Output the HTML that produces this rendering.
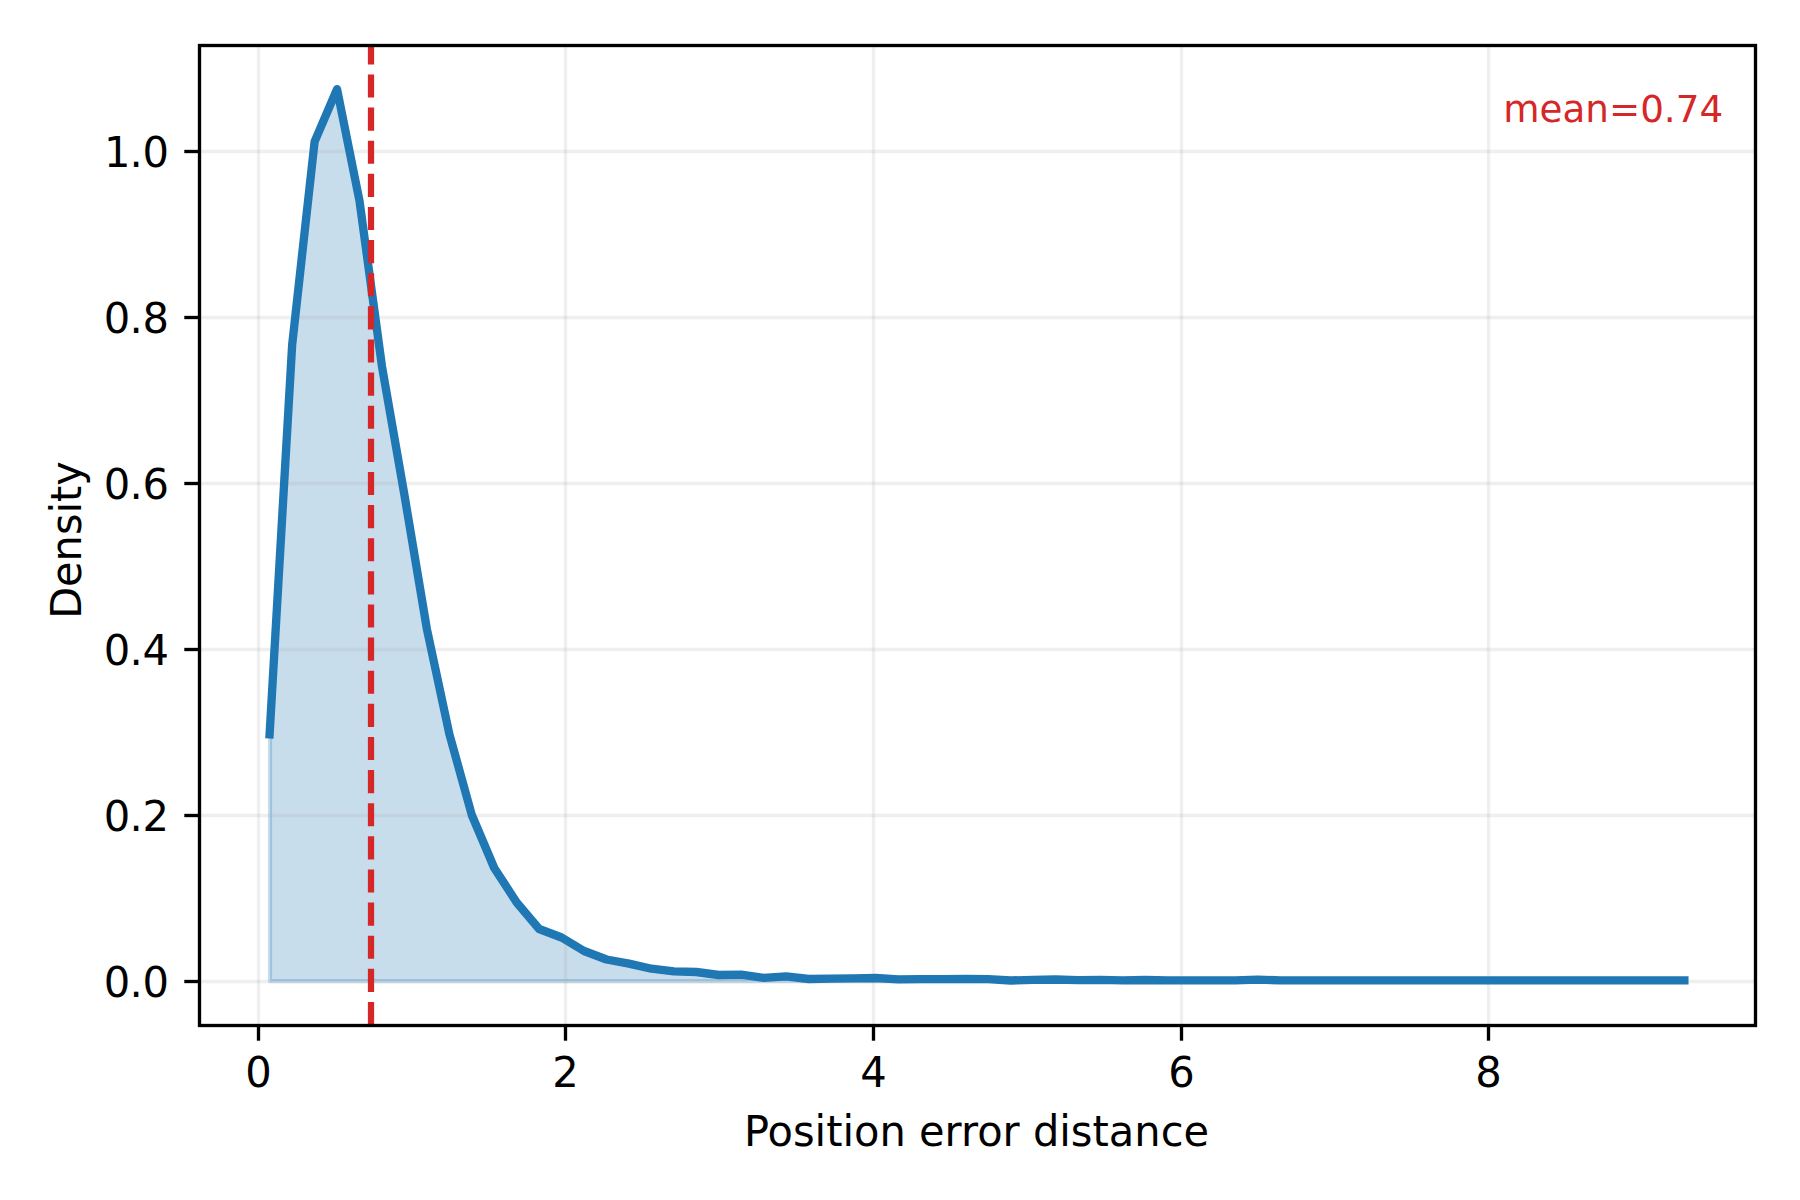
<!DOCTYPE html><html><head><meta charset="utf-8"><title>Position error distance density</title>
<style>html,body{margin:0;padding:0;background:#fff}svg{display:block}text{font-family:"DejaVu Sans","Liberation Sans",sans-serif;fill:#000}</style></head><body>
<svg width="1800" height="1200" viewBox="0 0 1800 1200">
<rect width="1800" height="1200" fill="#fff"/>
<defs><clipPath id="ax"><rect x="199.5" y="45.5" width="1556.0" height="980.0"/></clipPath></defs>
<g clip-path="url(#ax)">
<polygon points="270.0,981.2 270.0,734.30 292.15,345.00 314.61,141.60 337.06,89.20 359.52,201.00 381.97,366.40 404.43,495.00 426.88,629.00 449.34,734.00 471.79,815.00 494.25,868.00 516.70,902.50 539.16,929.00 561.62,937.50 584.07,951.00 606.52,959.50 628.98,963.60 651.43,968.70 673.89,971.30 696.35,972.00 718.80,975.00 741.25,974.70 763.71,977.80 786.16,976.30 808.62,979.00 831.08,978.70 853.53,978.30 875.98,978.00 898.44,979.30 920.89,979.20 943.35,979.20 965.80,978.80 988.26,979.20 1010.71,980.50 1033.17,979.80 1055.62,979.50 1078.08,980.20 1100.53,979.80 1122.99,980.30 1145.44,980.00 1167.90,980.30 1190.36,980.40 1212.81,980.30 1235.26,980.40 1257.72,979.70 1280.17,980.30 1302.63,980.40 1325.09,980.30 1347.54,980.40 1369.99,980.30 1392.45,980.40 1414.90,980.30 1437.36,980.40 1459.82,980.30 1482.27,980.40 1504.72,980.30 1527.18,980.30 1549.63,980.30 1572.09,980.30 1594.54,980.30 1617.00,980.30 1639.45,980.30 1661.91,980.30 1684.37,980.30 1684.37,981.2" fill="#1f77b4" fill-opacity="0.25" stroke="#1f77b4" stroke-opacity="0.25" stroke-width="4.167" stroke-linejoin="round"/>
<line x1="258.5" x2="258.5" y1="45.5" y2="1025.5" stroke="#b0b0b0" stroke-opacity="0.2" stroke-width="3.333"/>
<line x1="565.5" x2="565.5" y1="45.5" y2="1025.5" stroke="#b0b0b0" stroke-opacity="0.2" stroke-width="3.333"/>
<line x1="873.5" x2="873.5" y1="45.5" y2="1025.5" stroke="#b0b0b0" stroke-opacity="0.2" stroke-width="3.333"/>
<line x1="1181.5" x2="1181.5" y1="45.5" y2="1025.5" stroke="#b0b0b0" stroke-opacity="0.2" stroke-width="3.333"/>
<line x1="1488.5" x2="1488.5" y1="45.5" y2="1025.5" stroke="#b0b0b0" stroke-opacity="0.2" stroke-width="3.333"/>
<line x1="199.5" x2="1755.5" y1="981.5" y2="981.5" stroke="#b0b0b0" stroke-opacity="0.2" stroke-width="3.333"/>
<line x1="199.5" x2="1755.5" y1="815.5" y2="815.5" stroke="#b0b0b0" stroke-opacity="0.2" stroke-width="3.333"/>
<line x1="199.5" x2="1755.5" y1="649.5" y2="649.5" stroke="#b0b0b0" stroke-opacity="0.2" stroke-width="3.333"/>
<line x1="199.5" x2="1755.5" y1="483.5" y2="483.5" stroke="#b0b0b0" stroke-opacity="0.2" stroke-width="3.333"/>
<line x1="199.5" x2="1755.5" y1="317.5" y2="317.5" stroke="#b0b0b0" stroke-opacity="0.2" stroke-width="3.333"/>
<line x1="199.5" x2="1755.5" y1="151.5" y2="151.5" stroke="#b0b0b0" stroke-opacity="0.2" stroke-width="3.333"/>
<polyline points="269.60,734.30 292.15,345.00 314.61,141.60 337.06,89.20 359.52,201.00 381.97,366.40 404.43,495.00 426.88,629.00 449.34,734.00 471.79,815.00 494.25,868.00 516.70,902.50 539.16,929.00 561.62,937.50 584.07,951.00 606.52,959.50 628.98,963.60 651.43,968.70 673.89,971.30 696.35,972.00 718.80,975.00 741.25,974.70 763.71,977.80 786.16,976.30 808.62,979.00 831.08,978.70 853.53,978.30 875.98,978.00 898.44,979.30 920.89,979.20 943.35,979.20 965.80,978.80 988.26,979.20 1010.71,980.50 1033.17,979.80 1055.62,979.50 1078.08,980.20 1100.53,979.80 1122.99,980.30 1145.44,980.00 1167.90,980.30 1190.36,980.40 1212.81,980.30 1235.26,980.40 1257.72,979.70 1280.17,980.30 1302.63,980.40 1325.09,980.30 1347.54,980.40 1369.99,980.30 1392.45,980.40 1414.90,980.30 1437.36,980.40 1459.82,980.30 1482.27,980.40 1504.72,980.30 1527.18,980.30 1549.63,980.30 1572.09,980.30 1594.54,980.30 1617.00,980.30 1639.45,980.30 1661.91,980.30 1684.37,980.30" fill="none" stroke="#1f77b4" stroke-width="8.333" stroke-linejoin="round" stroke-linecap="square"/>
<line x1="371" x2="371" y1="1025.0" y2="45.5" stroke="#d62728" stroke-width="6.25" stroke-dasharray="23.125 10"/>
</g>
<line x1="258.5" x2="258.5" y1="1025.5" y2="1040.7" stroke="#000" stroke-width="3.333"/>
<text transform="translate(258.5,1087.2) scale(1,1.035)" font-size="41.667" text-anchor="middle">0</text>
<line x1="565.5" x2="565.5" y1="1025.5" y2="1040.7" stroke="#000" stroke-width="3.333"/>
<text transform="translate(565.5,1087.2) scale(1,1.035)" font-size="41.667" text-anchor="middle">2</text>
<line x1="873.5" x2="873.5" y1="1025.5" y2="1040.7" stroke="#000" stroke-width="3.333"/>
<text transform="translate(873.5,1087.2) scale(1,1.035)" font-size="41.667" text-anchor="middle">4</text>
<line x1="1181.5" x2="1181.5" y1="1025.5" y2="1040.7" stroke="#000" stroke-width="3.333"/>
<text transform="translate(1181.5,1087.2) scale(1,1.035)" font-size="41.667" text-anchor="middle">6</text>
<line x1="1488.5" x2="1488.5" y1="1025.5" y2="1040.7" stroke="#000" stroke-width="3.333"/>
<text transform="translate(1488.5,1087.2) scale(1,1.035)" font-size="41.667" text-anchor="middle">8</text>
<line x1="184.3" x2="199.5" y1="981.5" y2="981.5" stroke="#000" stroke-width="3.333"/>
<text transform="translate(0,997.0) scale(1,1.035)" x="103.8 129.6 142.6" y="0" font-size="41.667">0.0</text>
<line x1="184.3" x2="199.5" y1="815.5" y2="815.5" stroke="#000" stroke-width="3.333"/>
<text transform="translate(0,831.0) scale(1,1.035)" x="103.8 129.6 142.6" y="0" font-size="41.667">0.2</text>
<line x1="184.3" x2="199.5" y1="649.5" y2="649.5" stroke="#000" stroke-width="3.333"/>
<text transform="translate(0,665.0) scale(1,1.035)" x="103.8 129.6 142.6" y="0" font-size="41.667">0.4</text>
<line x1="184.3" x2="199.5" y1="483.5" y2="483.5" stroke="#000" stroke-width="3.333"/>
<text transform="translate(0,499.0) scale(1,1.035)" x="103.8 129.6 142.6" y="0" font-size="41.667">0.6</text>
<line x1="184.3" x2="199.5" y1="317.5" y2="317.5" stroke="#000" stroke-width="3.333"/>
<text transform="translate(0,333.0) scale(1,1.035)" x="103.8 129.6 142.6" y="0" font-size="41.667">0.8</text>
<line x1="184.3" x2="199.5" y1="151.5" y2="151.5" stroke="#000" stroke-width="3.333"/>
<text transform="translate(0,167.0) scale(1,1.035)" x="104.0 129.6 142.6" y="0" font-size="41.667">1.0</text>
<rect x="199.5" y="45.5" width="1556.0" height="980.0" fill="none" stroke="#000" stroke-width="3.333"/>
<text transform="translate(976.5,1146) scale(0.998,1.035)" font-size="41.667" text-anchor="middle">Position error distance</text>
<text transform="translate(81.2,540.0) rotate(-90) scale(0.995,1.035)" font-size="41.667" text-anchor="middle">Density</text>
<text transform="translate(1613.2,121.8) scale(0.994,1)" font-size="37.5" text-anchor="middle" style="fill:#d62728">mean=0.74</text>
</svg></body></html>
